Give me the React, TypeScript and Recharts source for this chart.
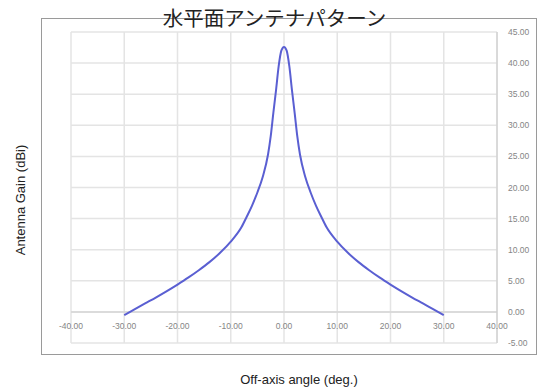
import React from "react";
import { LineChart, Line, XAxis, YAxis, CartesianGrid, ReferenceLine } from "recharts";

// 水平面アンテナパターン: off-axis angle (deg) vs gain (dBi)
const angles = [
  -30, -28, -26, -24, -22, -20, -18, -16, -14, -12, -10, -8, -7, -6, -5, -4, -3, -2.5, -2, -1.5, -1, -0.5,
  0, 0.5, 1, 1.5, 2, 2.5, 3, 4, 5, 6, 7, 8, 10, 12, 14, 16, 18, 20, 22, 24, 26, 28, 30,
];
const gains = [
  -0.5, 0.45, 1.4, 2.35, 3.35, 4.4, 5.5, 6.7, 8.0, 9.5, 11.3, 13.6, 15.3, 17.1, 19.2, 21.7, 25.3, 28.2, 32.0, 35.6, 39.5, 42.0,
  42.6, 42.0, 39.5, 35.6, 32.0, 28.2, 25.3, 21.7, 19.2, 17.1, 15.3, 13.6, 11.3, 9.5, 8.0, 6.7, 5.5, 4.4, 3.35, 2.35, 1.4, 0.45, -0.5,
];
const xTicks = [-40, -30, -20, -10, 0, 10, 20, 30, 40];
const yTicks = [-5, 0, 5, 10, 15, 20, 25, 30, 35, 40, 45];

const data = angles.map((a, i) => ({ angle: a, gain: gains[i] }));

const tickFont = "'Liberation Sans', Arial, sans-serif";

function XTick({ x, y, payload }: any) {
  return (
    <text x={x} y={y - 22} textAnchor="middle" fontSize={8.5} fill="#858585" fontFamily={tickFont}>
      {Number(payload.value).toFixed(2)}
    </text>
  );
}

function YTick({ x, y, payload }: any) {
  return (
    <text x={x + 3} y={y + 3} textAnchor="start" fontSize={8.5} fill="#858585" fontFamily={tickFont}>
      {Number(payload.value).toFixed(2)}
    </text>
  );
}

export default function App() {
  return (
    <div style={{ position: "absolute", left: 0, top: 0, width: 543, height: 392, background: "#fff" }}>
      <div
        style={{
          position: "absolute",
          left: 41,
          top: 18,
          width: 496,
          height: 337,
          border: "1px solid #9a9a9a",
          boxSizing: "border-box",
        }}
      />
      <LineChart
        width={543}
        height={392}
        data={data}
        margin={{ top: 32, right: 6, bottom: 39, left: 71 }}
        style={{ position: "absolute", left: 0, top: 0 }}
      >
        <CartesianGrid stroke="#e4e4e4" strokeWidth={1.5} />
        <XAxis
          type="number"
          dataKey="angle"
          domain={[-40, 40]}
          ticks={xTicks}
          tick={<XTick />}
          axisLine={false}
          tickLine={false}
          height={10}
          interval={0}
        />
        <YAxis
          orientation="right"
          type="number"
          domain={[-5, 45]}
          ticks={yTicks}
          tick={<YTick />}
          axisLine={{ stroke: "#c8c8c8" }}
          tickLine={false}
          width={40}
          interval={0}
        />
        <ReferenceLine y={0} stroke="#d6d6d6" strokeWidth={1.5} />
        <Line
          type="monotone"
          dataKey="gain"
          stroke="#5a5fd2"
          strokeWidth={2}
          dot={false}
          isAnimationActive={false}
        />
      </LineChart>
      <div
        style={{
          position: "absolute",
          left: 0,
          width: 543,
          top: 5,
          textAlign: "center",
          fontFamily: "'Noto Sans CJK JP', sans-serif",
          fontSize: 20.5,
          lineHeight: "24px",
          color: "#222",
        }}
      >
        <span style={{ position: "relative", left: 3 }}>水平面アンテナパターン</span>
      </div>
      <div
        style={{
          position: "absolute",
          left: 20,
          top: 200,
          transform: "translate(-50%, -50%) rotate(-90deg)",
          whiteSpace: "nowrap",
          fontFamily: "'Liberation Sans', Arial, sans-serif",
          fontSize: 13,
          color: "#222",
        }}
      >
        Antenna Gain (dBi)
      </div>
      <div
        style={{
          position: "absolute",
          left: 299,
          top: 379,
          transform: "translate(-50%, -50%)",
          whiteSpace: "nowrap",
          fontFamily: "'Liberation Sans', Arial, sans-serif",
          fontSize: 13,
          color: "#222",
        }}
      >
        Off-axis angle (deg.)
      </div>
    </div>
  );
}
